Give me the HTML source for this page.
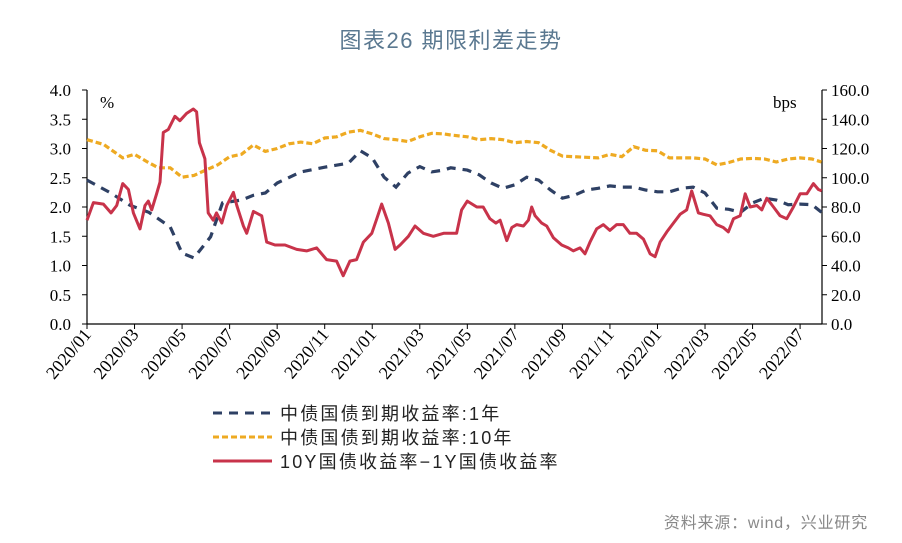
<!DOCTYPE html>
<html><head><meta charset="utf-8"><style>
body{margin:0;background:#fff;width:902px;height:543px;overflow:hidden}
svg{display:block}
.tk{font-family:"Liberation Serif",serif;font-size:17px;fill:#000}
.xt{font-family:"Liberation Serif",serif;font-size:18px;fill:#000}
.lg{font-family:"Liberation Sans","Noto Sans CJK SC",sans-serif;font-size:18px;fill:#222;letter-spacing:2.2px}
</style></head><body>
<svg id="chart" width="902" height="543">
<text x="451" y="48" text-anchor="middle" font-family="'Liberation Sans','Noto Sans CJK SC',sans-serif" font-size="22" letter-spacing="1.5" fill="#5a7890">图表26  期限利差走势</text>
<g id="axes"></g>
<g id="series"></g>
<text x="100" y="108" class="tk">%</text>
<text x="773" y="108" class="tk">bps</text>
<g>
<g><line x1="213" y1="413" x2="272" y2="413" stroke="#2e4064" stroke-width="3" stroke-dasharray="9,7"/><text x="280" y="420" class="lg">中债国债到期收益率:1年</text></g>
<g><line x1="213" y1="437" x2="272" y2="437" stroke="#eeaa22" stroke-width="3" stroke-dasharray="6,3"/><text x="280" y="444" class="lg">中债国债到期收益率:10年</text></g>
<g><line x1="213" y1="461" x2="272" y2="461" stroke="#c8334a" stroke-width="3"/><text x="280" y="468" class="lg">10Y国债收益率−1Y国债收益率</text></g>
</g>
<text x="868" y="528" text-anchor="end" font-family="'Liberation Sans','Noto Sans CJK SC',sans-serif" font-size="16" letter-spacing="0.8" fill="#888">资料来源：wind，兴业研究</text>
</svg>
<script>
const leftTicks=["0.0","0.5","1.0","1.5","2.0","2.5","3.0","3.5","4.0"];
const rightTicks=["0.0","20.0","40.0","60.0","80.0","100.0","120.0","140.0","160.0"];
const xLabels=["2020/01","2020/03","2020/05","2020/07","2020/09","2020/11","2021/01","2021/03","2021/05","2021/07","2021/09","2021/11","2022/01","2022/03","2022/05","2022/07"];
const y1Months=[0,1,1.8,2.6,3.5,4,4.5,5.2,5.7,6.5,7,7.5,8,9,10,11,11.5,12,12.5,13,13.5,14,14.5,15,15.3,16,16.5,17,17.5,18,18.5,19,19.5,20,20.5,21,21.5,22,22.5,23,23.5,24,24.5,25,25.5,26,26.5,27,27.5,28,28.5,29,29.5,30,30.5,30.9];
const y1Values=[2.46,2.24,2.03,1.91,1.66,1.21,1.13,1.49,2.07,2.12,2.2,2.24,2.41,2.6,2.68,2.75,2.96,2.84,2.51,2.34,2.58,2.69,2.6,2.63,2.67,2.63,2.55,2.41,2.32,2.38,2.51,2.46,2.29,2.15,2.2,2.29,2.32,2.36,2.34,2.34,2.29,2.26,2.26,2.32,2.34,2.24,1.98,1.96,1.91,2.07,2.15,2.12,2.04,2.05,2.04,1.91];
const y10Months=[0,0.7,1.5,2,2.5,3,3.5,4,4.5,5,5.5,6,6.5,7,7.5,8,8.5,9,9.5,10,10.5,11,11.5,12,12.5,13,13.5,14,14.5,15,15.3,16,16.5,17,17.5,18,18.5,19,19.5,20,20.5,21,21.5,22,22.5,23,23.5,24,24.5,25,25.5,26,26.5,27,27.5,28,28.5,29,29.5,30,30.5,30.9];
const y10Values=[3.15,3.07,2.84,2.9,2.78,2.67,2.67,2.51,2.54,2.63,2.72,2.86,2.9,3.06,2.95,3.0,3.08,3.11,3.08,3.18,3.2,3.28,3.31,3.25,3.17,3.15,3.12,3.2,3.26,3.25,3.23,3.2,3.15,3.17,3.15,3.1,3.12,3.1,2.97,2.87,2.86,2.85,2.84,2.9,2.86,3.03,2.97,2.96,2.84,2.84,2.84,2.82,2.72,2.76,2.82,2.83,2.82,2.77,2.82,2.84,2.82,2.77];
const spMonths=[0,0.27,0.69,1.01,1.25,1.5,1.74,1.95,2.23,2.44,2.58,2.72,2.93,3.07,3.21,3.42,3.7,3.91,4.19,4.47,4.61,4.73,4.96,5.1,5.31,5.45,5.67,5.88,6.16,6.3,6.58,6.72,7.0,7.35,7.56,7.91,8.33,8.82,9.24,9.66,10.08,10.5,10.78,11.06,11.34,11.63,11.98,12.19,12.4,12.68,12.96,13.17,13.52,13.8,14.15,14.57,15.0,15.27,15.55,15.76,16.0,16.4,16.67,16.95,17.2,17.38,17.66,17.87,18.08,18.36,18.57,18.71,18.85,19.13,19.34,19.62,19.97,20.25,20.46,20.74,20.95,21.16,21.44,21.72,22.0,22.28,22.56,22.84,23.12,23.41,23.69,23.9,24.11,24.39,24.67,24.95,25.23,25.44,25.72,25.93,26.21,26.49,26.77,26.98,27.2,27.48,27.69,27.9,28.18,28.39,28.6,28.88,29.16,29.44,29.72,30.0,30.28,30.56,30.77,30.91];
const spValues=[71,83,82,76,81,96,92,76,65,81,84,78,89,97,131,133,142,139,144,147,145,124,113,76,71,76,69,81,90,81,67,62,77,74,56,54,54,51,50,52,44,43,33,43,44,56,62,72,82,69,51,54,60,67,62,60,62,62,62,78,84,80,80,72,69,71,57,66,68,67,71,80,74,69,67,59,54,52,50,52,48,56,65,68,64,68,68,62,62,58,48,46,56,63,69,75,78,91,76,75,74,68,66,63,72,74,89,80,81,78,86,80,74,72,80,89,89,96,92,91];
const NS="http://www.w3.org/2000/svg";
const X0=87,X1=822,Y0=324,YT=90;
const xS=m=>X0+m*23.77;
const yL=v=>Y0-(v/4)*(Y0-YT);
const yR=v=>Y0-(v/160)*(Y0-YT);
const axes=document.getElementById('axes'),ser=document.getElementById('series');
function mk(tag,at,parent){const e=document.createElementNS(NS,tag);for(const k in at)e.setAttribute(k,at[k]);parent.appendChild(e);return e;}
const la=mk('line',{x1:X0,y1:YT,x2:X0,y2:Y0,stroke:'#000','stroke-width':1.2},axes);


const ra=mk('line',{x1:X1,y1:YT,x2:X1,y2:Y0,stroke:'#000','stroke-width':1.2},axes);


const ba=mk('line',{x1:X0,y1:Y0,x2:X1,y2:Y0,stroke:'#000','stroke-width':1.2},axes);


leftTicks.forEach((t,i)=>{const y=yL(i*0.5);
mk('line',{x1:X0-5,y1:y,x2:X0,y2:y,stroke:'#000'},axes);
const tx=mk('text',{x:X0-16,y:y+6,'text-anchor':'end',class:'tk'},axes);tx.textContent=t;

});
rightTicks.forEach((t,i)=>{const y=yR(i*20);
mk('line',{x1:X1,y1:y,x2:X1+5,y2:y,stroke:'#000'},axes);
const tx=mk('text',{x:X1+9,y:y+6,class:'tk'},axes);tx.textContent=t;

});
xLabels.forEach((t,i)=>{const x=xS(i*2);
mk('line',{x1:x,y1:Y0,x2:x,y2:Y0+5,stroke:'#000'},axes);
const tx=mk('text',{x:x+5,y:Y0+11,'text-anchor':'end',class:'xt',transform:`rotate(-50 ${x+5} ${Y0+11})`},axes);tx.textContent=t;

});
function path(ms,vs,sc){return ms.map((m,i)=>(i?'L':'M')+xS(m).toFixed(1)+','+sc(vs[i]).toFixed(1)).join(' ');}
const p10=mk('path',{d:path(y10Months,y10Values,yL),fill:'none',stroke:'#eeaa22','stroke-width':3.2,'stroke-dasharray':'6,3'},ser);


const p1=mk('path',{d:path(y1Months,y1Values,yL),fill:'none',stroke:'#2e4064','stroke-width':3.2,'stroke-dasharray':'9,7'},ser);


const ps=mk('path',{d:path(spMonths,spValues,yR),fill:'none',stroke:'#c8334a','stroke-width':3,'stroke-linejoin':'round'},ser);


</script>
</body></html>
